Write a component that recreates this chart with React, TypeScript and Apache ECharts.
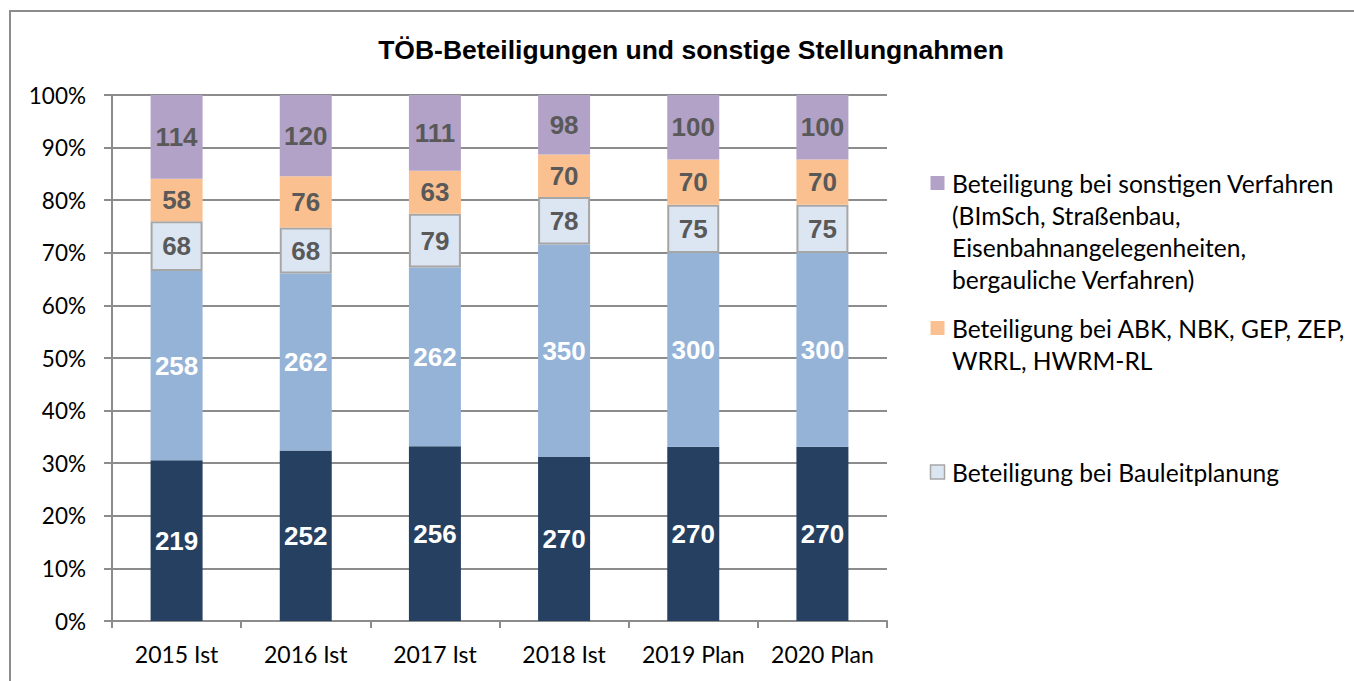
import React, { useEffect, useRef } from "react";
import * as echarts from "echarts";

const categories = ["2015 Ist", "2016 Ist", "2017 Ist", "2018 Ist", "2019 Plan", "2020 Plan"];
const bauleitSonstige = [219, 252, 256, 270, 270, 270];
const bauleitBlau = [258, 262, 262, 350, 300, 300];
const bauleitplanung = [68, 68, 79, 78, 75, 75];
const abkNbk = [58, 76, 63, 70, 70, 70];
const sonstigeVerfahren = [114, 120, 111, 98, 100, 100];
const yTicks = [0, 10, 20, 30, 40, 50, 60, 70, 80, 90, 100];

const seriesDefs = [
  { name: "Serie 1", data: bauleitSonstige, color: "#264061", label: "#ffffff", border: null },
  { name: "Serie 2", data: bauleitBlau, color: "#95B3D7", label: "#ffffff", border: null },
  { name: "Beteiligung bei Bauleitplanung", data: bauleitplanung, color: "#DCE6F2", label: "#595959", border: "#A6A6A6" },
  { name: "Beteiligung bei ABK, NBK, GEP, ZEP, WRRL, HWRM-RL", data: abkNbk, color: "#FAC090", label: "#595959", border: null },
  { name: "Beteiligung bei sonstigen Verfahren (BImSch, Straßenbau, Eisenbahnangelegenheiten, bergauliche Verfahren)", data: sonstigeVerfahren, color: "#B3A2C7", label: "#595959", border: null },
];

const legendItems = [
  { color: "#B3A2C7", border: null, y: 176, lines: ["Beteiligung bei sonstigen Verfahren", "(BImSch, Straßenbau,", "Eisenbahnangelegenheiten,", "bergauliche Verfahren)"] },
  { color: "#FAC090", border: null, y: 321, lines: ["Beteiligung bei ABK, NBK, GEP, ZEP,", "WRRL, HWRM-RL"] },
  { color: "#DCE6F2", border: "#A6A6A6", y: 465, lines: ["Beteiligung bei Bauleitplanung"] },
];

export default function App() {
  const ref = useRef<HTMLDivElement>(null);
  useEffect(() => {
    if (!ref.current) return;
    const chart = echarts.init(ref.current, null, { renderer: "svg" });
    const totals = categories.map((_, i) => seriesDefs.reduce((s, d) => s + d.data[i], 0));
    const gridColor = "#8c8c8c";
    const graphic: any[] = [
      {
        type: "rect",
        shape: { x: 10, y: 11, width: 1400, height: 700 },
        style: { fill: "none", stroke: "#8c8c8c", lineWidth: 2 },
        silent: true,
      },
    ];
    legendItems.forEach((it) => {
      graphic.push({
        type: "rect",
        shape: { x: 930.5, y: it.y, width: 14, height: 14 },
        style: { fill: it.color, stroke: it.border || it.color, lineWidth: it.border ? 1.5 : 0 },
      });
      graphic.push({
        type: "text",
        x: 952,
        y: it.y + 7 - 16,
        style: {
          text: it.lines.join("\n"),
          font: "24.6px Lato",
          fill: "#000000",
          lineHeight: 32,
          verticalAlign: "top",
        },
      });
    });
    chart.setOption({
      animation: false,
      backgroundColor: "#ffffff",
      title: {
        text: "TÖB-Beteiligungen und sonstige Stellungnahmen",
        left: 686,
        top: 31,
        textAlign: "center",
        textStyle: { fontFamily: "Liberation Sans", fontWeight: "bold", fontSize: 26.5, color: "#000" },
      },
      grid: { left: 112, right: 467, top: 95, bottom: 60 },
      xAxis: {
        type: "category",
        data: categories,
        boundaryGap: true,
        axisLine: { lineStyle: { color: gridColor, width: 2 } },
        axisTick: { show: true, interval: 0, alignWithLabel: false, length: 7, lineStyle: { color: gridColor, width: 2 } },
        axisLabel: { interval: 0, color: "#000", fontFamily: "Lato", fontSize: 23, margin: 21 },
      },
      yAxis: {
        type: "value",
        min: 0,
        max: 100,
        interval: 10,
        axisLine: { show: true, lineStyle: { color: gridColor, width: 2 } },
        axisTick: { show: true, length: 8, lineStyle: { color: gridColor, width: 2 } },
        splitLine: { show: true, lineStyle: { color: gridColor, width: 2 } },
        axisLabel: {
          color: "#000",
          fontFamily: "Lato",
          fontSize: 22.5,
          margin: 26,
          formatter: (v: number) => (yTicks.includes(Math.round(v)) ? Math.round(v) + "%" : ""),
        },
      },
      series: seriesDefs.map((d) => ({
        name: d.name,
        type: "bar",
        stack: "total",
        barWidth: 52,
        data: d.data.map((v, i) => (v / totals[i]) * 100),
        itemStyle: {
          color: d.color,
          borderColor: d.border || undefined,
          borderWidth: d.border ? 2 : 0,
        },
        label: {
          show: true,
          position: "inside",
          color: d.label,
          fontFamily: "Liberation Sans",
          fontWeight: "bold",
          fontSize: 26,
          formatter: (p: any) => String(d.data[p.dataIndex]),
        },
      })),
      graphic,
    });
    return () => chart.dispose();
  }, []);
  return (
    <div
      ref={ref}
      style={{ position: "fixed", left: 0, top: 0, width: 1354, height: 681 }}
    />
  );
}
